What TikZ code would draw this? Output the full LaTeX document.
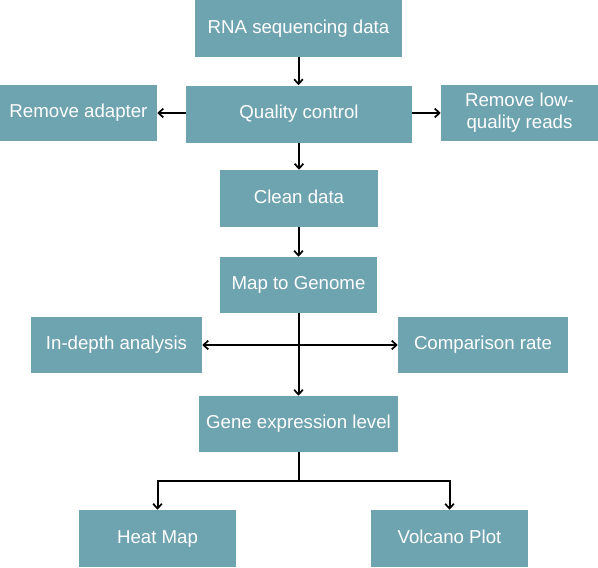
\documentclass[tikz,border=0pt]{standalone}
\usepackage{fontspec}
\setmainfont{Liberation Sans}
\usetikzlibrary{arrows.meta}
\definecolor{boxfill}{HTML}{6EA3B0}
\begin{document}
\begin{tikzpicture}[x=0.75pt,y=-0.75pt,
  base/.style={fill=boxfill,draw=none,text=white,font=\fontsize{14pt}{16.5pt}\selectfont,
    inner sep=0pt,align=center,minimum height=#1},
  base/.default=42.75pt,
  box/.style={base=#1,text height=10pt,text depth=3pt},
  box/.default=42.75pt,
  mytip/.tip={Straight Barb[length=3.5pt,width=6.5pt,line width=1.3pt]},
  conn/.style={draw=black,line width=1.5pt,-{mytip}}]
\useasboundingbox (0,0) rectangle (598,567);
\node[box, minimum width=155.25pt] (rna) at (298.5,28.5) {RNA sequencing data};
\node[box, minimum width=169.5pt] (qc) at (299,114) {Quality control};
\node[box=42pt, minimum width=117.75pt] (ra) at (78.5,113) {Remove adapter};
\node[base=42pt, minimum width=117.75pt] (rl) at (519.5,113) {Remove low-\\quality reads};
\node[box, minimum width=118.5pt] (clean) at (299,198.5) {Clean data};
\node[box=42pt, minimum width=117.75pt] (map) at (298.5,285) {Map to Genome};
\node[box=42pt, minimum width=128.25pt] (depth) at (116.5,345) {In-depth analysis};
\node[box=42pt, minimum width=127.5pt] (comp) at (483,345) {Comparison rate};
\node[box=42pt, minimum width=149.25pt] (gene) at (298.5,424) {Gene expression level};
\node[box, minimum width=117.75pt] (heat) at (157.5,538.5) {Heat Map};
\node[box, minimum width=117.75pt] (volc) at (449.5,538.5) {Volcano Plot};
\coordinate (br) at (298.5,481);
\draw[conn] (rna.south) -- (qc.north -| rna.south);
\draw[conn] (qc.west |- ra.east) -- (ra.east);
\draw[conn] (qc.east |- rl.west) -- (rl.west);
\draw[conn] (qc.south) -- (clean.north -| qc.south);
\draw[conn] (clean.south -| map.north) -- (map.north);
\draw[conn] (map.south) -- (gene.north);
\draw[conn,{mytip}-{mytip}] (depth.east) -- (comp.west);
\draw[line width=1.5pt] (gene.south) -- (br);
\draw[conn] (br) -| (heat.north);
\draw[conn] (br) -| (volc.north);
\end{tikzpicture}
\end{document}
